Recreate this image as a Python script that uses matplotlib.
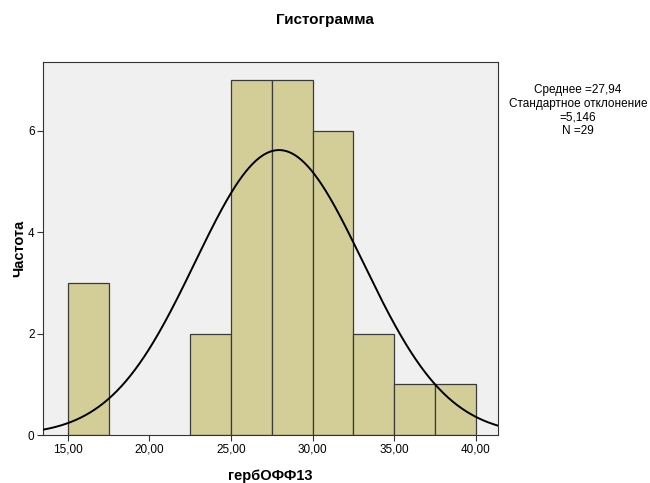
import matplotlib
matplotlib.use('Agg')
import matplotlib.pyplot as plt
import numpy as np

plt.rcParams['font.family'] = ['Liberation Sans', 'DejaVu Sans']

# границы интервалов и частоты
bin_edges = [15.0, 17.5, 20.0, 22.5, 25.0, 27.5, 30.0, 32.5, 35.0, 37.5, 40.0]
counts = [3, 0, 0, 2, 7, 7, 6, 2, 1, 1]
mean = 27.94
sd = 5.146
n = 29
x_ticks = [15, 20, 25, 30, 35, 40]
x_labels = ['15,00', '20,00', '25,00', '30,00', '35,00', '40,00']
y_ticks = [0, 2, 4, 6]

fig = plt.figure(figsize=(6.5, 4.83), dpi=100)
ax = fig.add_axes([0.066, 0.099, 0.700, 0.773])
ax.set_facecolor('#f0f0f0')

lefts = bin_edges[:-1]
widths = np.diff(bin_edges)
for l, w, c in zip(lefts, widths, counts):
    if c > 0:
        ax.bar(l, c, w, align='edge', color='#d3ce98', edgecolor='#3a3a3a', linewidth=0.9, zorder=2)

# нормальная кривая
xs = np.linspace(13.47, 41.35, 400)
bw = 2.5
ys = n * bw / (sd * np.sqrt(2 * np.pi)) * np.exp(-0.5 * ((xs - mean) / sd) ** 2)
ax.plot(xs, ys, color='black', linewidth=1.4, zorder=3)

ax.set_xlim(13.47, 41.35)
ax.set_ylim(0, 7.36)
ax.set_xticks(x_ticks)
ax.set_xticklabels(x_labels, fontsize=8.5)
ax.set_yticks(y_ticks)
ax.set_yticklabels([str(t) for t in y_ticks], fontsize=8.5)
ax.tick_params(direction='out', length=4, width=0.8, color='#333333', top=False, right=False, pad=2)
for s in ax.spines.values():
    s.set_color('#333333')
    s.set_linewidth(0.8)

ax.set_xlabel('гербОФФ13', fontsize=10.5, fontweight='bold', labelpad=10)
ax.set_ylabel('Частота', fontsize=10.5, fontweight='bold', labelpad=1)
fig.text(0.5, 0.958, 'Гистограмма', ha='center', va='center', fontsize=11, fontweight='bold')

fig.text(0.889, 0.771, 'Среднее =27,94\nСтандартное отклонение\n=5,146\nN =29',
         ha='center', va='center', fontsize=8.5, linespacing=1.2)

plt.savefig('out.png', dpi=100)
plt.close()
